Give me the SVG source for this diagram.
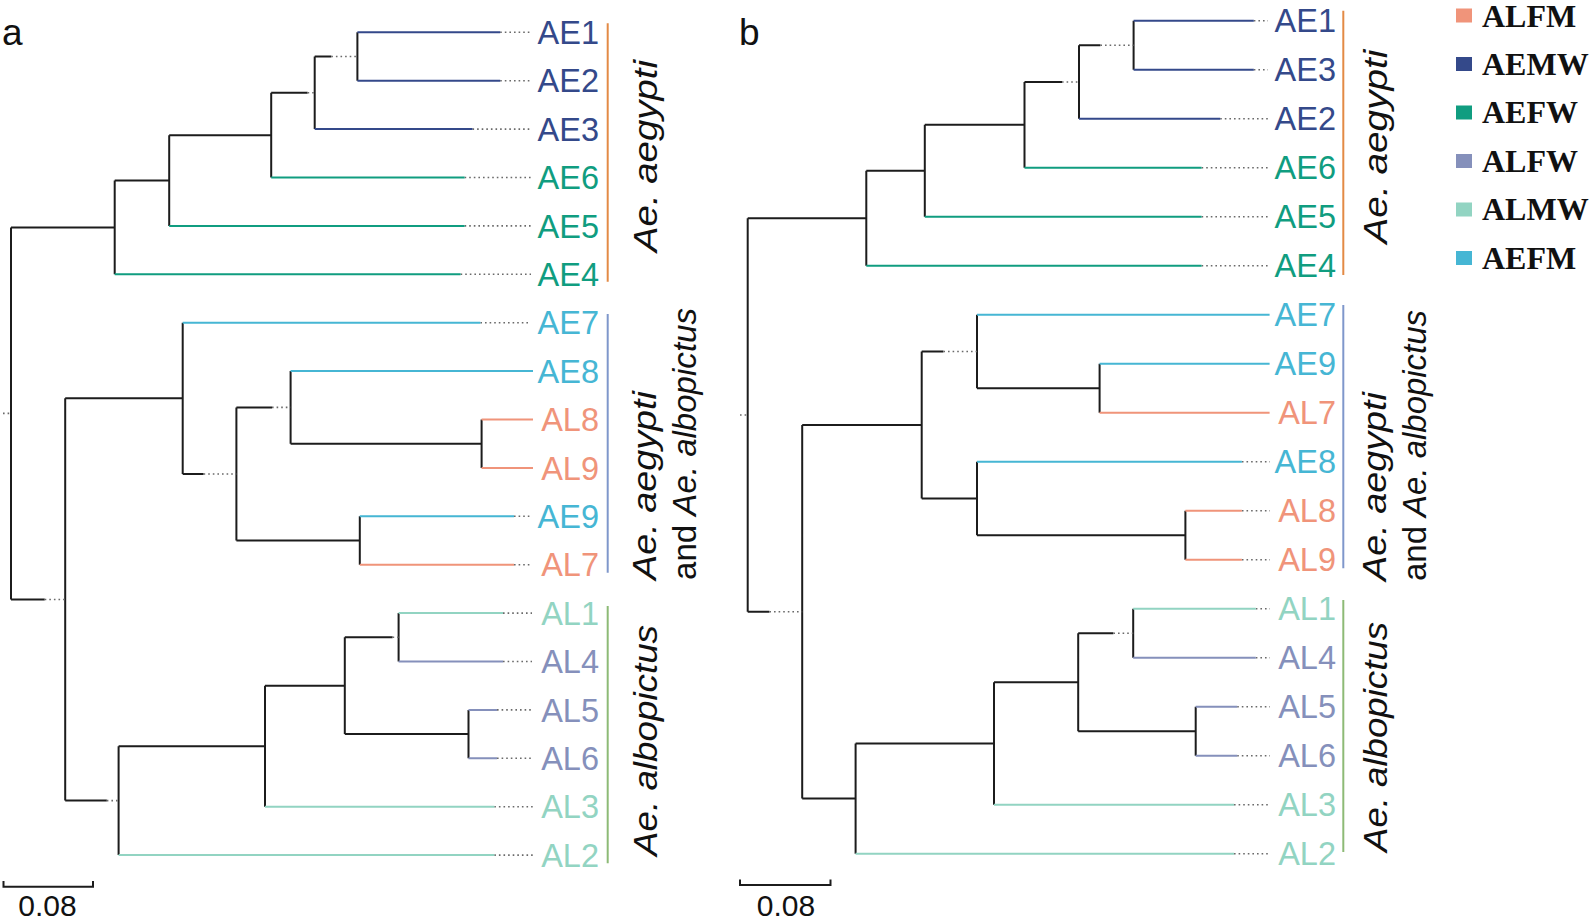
<svg xmlns="http://www.w3.org/2000/svg" width="1594" height="921" viewBox="0 0 1594 921">
<style>
.bk{stroke:#1c1c1c;stroke-width:2;fill:none}
.dt{stroke:#6a6a6a;stroke-width:1.6;fill:none;stroke-dasharray:1.6 3}
.nv{stroke:#34498a;stroke-width:2;fill:none}
.tl{stroke:#109d80;stroke-width:2;fill:none}
.cy{stroke:#46b6d4;stroke-width:2;fill:none}
.sa{stroke:#f0947a;stroke-width:2;fill:none}
.mt{stroke:#92d4c2;stroke-width:2;fill:none}
.lv{stroke:#8590bb;stroke-width:2;fill:none}
.lab{font-family:"Liberation Sans",Arial,sans-serif;font-size:32.5px;text-anchor:end}
.tnv{fill:#34498a}.ttl{fill:#109d80}.tcy{fill:#46b6d4}.tsa{fill:#f0947a}.tmt{fill:#92d4c2}.tlv{fill:#8590bb}
.side{font-family:"Liberation Sans",Arial,sans-serif;font-size:33.5px;font-style:italic;fill:#111}
.up{font-style:normal}
.pl{font-family:"Liberation Sans",Arial,sans-serif;font-size:37px;fill:#111}
.sc{font-family:"Liberation Sans",Arial,sans-serif;font-size:30px;fill:#111;text-anchor:middle}
.leg{font-family:"Liberation Serif","Times New Roman",serif;font-size:32px;font-weight:bold;fill:#111}
</style>

<g id="connectors">
<!-- Panel a black internal branches -->
<path class="bk" d="M11,227.4V599.5M11,227.4H114.7M114.7,180.5V274.3M114.7,180.5H169.2M169.2,135.2V225.9M169.2,135.2H271.2M271.2,92.8V177.5M271.2,92.8H307.6M314.7,56.5V129.1M314.7,56.5H331.3M357.4,32.3V80.7"/>
<path class="bk" d="M11,599.5H44.7M65.2,398.3V800.6M65.2,398.3H182.7M182.7,322.7V474M182.7,474H203.6M236.4,407.4V540.5M236.4,407.4H272M290.6,371.1V443.7M290.6,443.7H481.6M481.6,419.5V467.9M236.4,540.5H359.8M359.8,516.3V564.7"/>
<path class="bk" d="M65.2,800.6H106.8M118.6,746.2V855.1M118.6,746.2H265M265,685.7V806.7M265,685.7H344.8M344.8,637.3V734.1M344.8,637.3H392.6M398.6,613.1V661.5M344.8,734.1H468.5M468.5,709.9V758.3"/>
<!-- Panel a dotted -->
<path class="dt" d="M3,413.4H11M307.6,92.8H314.7M331.3,56.5H357.4M44.7,599.5H65.2M203.6,474H236.4M272,407.4H290.6M106.8,800.6H118.6M392.6,637.3H398.6"/>
<path class="dt" d="M500.2,32.3H532M500.2,80.7H532M472.5,129.1H532M464.6,177.5H532M464.6,225.9H532M460.6,274.3H531M480.4,322.7H531M514,516.3H532M514,564.7H532M503,613.1H532M503,661.5H532M497,709.9H533M497,758.3H533M494.3,806.7H533M494.3,855.1H533"/>
<!-- Panel a coloured terminal branches -->
<path class="nv" d="M357.4,32.3H500.2M357.4,80.7H500.2M314.7,129.1H472.5"/>
<path class="tl" d="M271.2,177.5H464.6M169.2,225.9H464.6M114.7,274.3H460.6"/>
<path class="cy" d="M182.7,322.7H480.4M290.6,371.1H533M359.8,516.3H514"/>
<path class="sa" d="M481.6,419.5H533M481.6,467.9H533M359.8,564.7H514"/>
<path class="mt" d="M398.6,613.1H503M265,806.7H494.3M118.6,855.1H494.3"/>
<path class="lv" d="M398.6,661.5H503M468.5,709.9H497M468.5,758.3H497"/>

<!-- Panel b black internal branches -->
<path class="bk" d="M747.7,218.2V611.8M747.7,218.2H866.3M866.3,170.8V265.7M866.3,170.8H924.8M924.8,124.8V216.7M924.8,124.8H1024.5M1024.5,82V167.7M1024.5,82H1062M1079,45.2V118.7M1079,45.2H1100.4M1133.6,20.7V69.7"/>
<path class="bk" d="M747.7,611.8H769.4M802.2,425V798.6M802.2,425H921.7M921.7,351.5V498.4M921.7,351.5H943.4M977,314.7V388.2M977,388.2H1099.6M1099.6,363.7V412.7M921.7,498.4H977M977,461.7V535.2M977,535.2H1185.4M1185.4,510.7V559.7"/>
<path class="bk" d="M802.2,798.6H855.6M855.6,743.5V853.7M855.6,743.5H994M994,682.2V804.7M994,682.2H1078.2M1078.2,633.2V731.2M1078.2,633.2H1113.4M1133.2,608.7V657.7M1078.2,731.2H1195.7M1195.7,706.7V755.7"/>
<!-- Panel b dotted -->
<path class="dt" d="M740,415H747.7M1062,82H1079M1100.4,45.2H1133.6M769.4,611.8H802.2M943.4,351.5H977M1113.4,633.2H1133.2"/>
<path class="dt" d="M1253.8,20.7H1268M1253.8,69.7H1268M1220.2,118.7H1268M1201.6,167.7H1268M1201.6,216.7H1268M1201.6,265.7H1268M1241.9,461.7H1270M1241.9,510.7H1270M1241.9,559.7H1270M1255.8,608.7H1270M1255.8,657.7H1270M1237.2,706.7H1270M1237.2,755.7H1270M1234,804.7H1270M1234,853.7H1270"/>
<!-- Panel b coloured terminal branches -->
<path class="nv" d="M1133.6,20.7H1253.8M1133.6,69.7H1253.8M1079,118.7H1220.2"/>
<path class="tl" d="M1024.5,167.7H1201.6M924.8,216.7H1201.6M866.3,265.7H1201.6"/>
<path class="cy" d="M977,314.7H1269.6M1099.6,363.7H1269.6M977,461.7H1241.9"/>
<path class="sa" d="M1099.6,412.7H1269.6M1185.4,510.7H1241.9M1185.4,559.7H1241.9"/>
<path class="mt" d="M1133.2,608.7H1255.8M994,804.7H1234M855.6,853.7H1234"/>
<path class="lv" d="M1133.2,657.7H1255.8M1195.7,706.7H1237.2M1195.7,755.7H1237.2"/>
</g>

<!-- Panel a leaf nodes -->
<g id="a-AE1"><text class="lab tnv" x="599" y="44">AE1</text></g>
<g id="a-AE2"><text class="lab tnv" x="599" y="92.4">AE2</text></g>
<g id="a-AE3"><text class="lab tnv" x="599" y="140.8">AE3</text></g>
<g id="a-AE6"><text class="lab ttl" x="599" y="189.2">AE6</text></g>
<g id="a-AE5"><text class="lab ttl" x="599" y="237.6">AE5</text></g>
<g id="a-AE4"><text class="lab ttl" x="599" y="286">AE4</text></g>
<g id="a-AE7"><text class="lab tcy" x="599" y="334.4">AE7</text></g>
<g id="a-AE8"><text class="lab tcy" x="599" y="382.8">AE8</text></g>
<g id="a-AL8"><text class="lab tsa" x="599" y="431.2">AL8</text></g>
<g id="a-AL9"><text class="lab tsa" x="599" y="479.6">AL9</text></g>
<g id="a-AE9"><text class="lab tcy" x="599" y="528">AE9</text></g>
<g id="a-AL7"><text class="lab tsa" x="599" y="576.4">AL7</text></g>
<g id="a-AL1"><text class="lab tmt" x="599" y="624.8">AL1</text></g>
<g id="a-AL4"><text class="lab tlv" x="599" y="673.2">AL4</text></g>
<g id="a-AL5"><text class="lab tlv" x="599" y="721.6">AL5</text></g>
<g id="a-AL6"><text class="lab tlv" x="599" y="770">AL6</text></g>
<g id="a-AL3"><text class="lab tmt" x="599" y="818.4">AL3</text></g>
<g id="a-AL2"><text class="lab tmt" x="599" y="866.8">AL2</text></g>

<!-- Panel b leaf nodes -->
<g id="b-AE1"><text class="lab tnv" x="1336" y="32.4">AE1</text></g>
<g id="b-AE3"><text class="lab tnv" x="1336" y="81.4">AE3</text></g>
<g id="b-AE2"><text class="lab tnv" x="1336" y="130.4">AE2</text></g>
<g id="b-AE6"><text class="lab ttl" x="1336" y="179.4">AE6</text></g>
<g id="b-AE5"><text class="lab ttl" x="1336" y="228.4">AE5</text></g>
<g id="b-AE4"><text class="lab ttl" x="1336" y="277.4">AE4</text></g>
<g id="b-AE7"><text class="lab tcy" x="1336" y="326.4">AE7</text></g>
<g id="b-AE9"><text class="lab tcy" x="1336" y="375.4">AE9</text></g>
<g id="b-AL7"><text class="lab tsa" x="1336" y="424.4">AL7</text></g>
<g id="b-AE8"><text class="lab tcy" x="1336" y="473.4">AE8</text></g>
<g id="b-AL8"><text class="lab tsa" x="1336" y="522.4">AL8</text></g>
<g id="b-AL9"><text class="lab tsa" x="1336" y="571.4">AL9</text></g>
<g id="b-AL1"><text class="lab tmt" x="1336" y="620.4">AL1</text></g>
<g id="b-AL4"><text class="lab tlv" x="1336" y="669.4">AL4</text></g>
<g id="b-AL5"><text class="lab tlv" x="1336" y="718.4">AL5</text></g>
<g id="b-AL6"><text class="lab tlv" x="1336" y="767.4">AL6</text></g>
<g id="b-AL3"><text class="lab tmt" x="1336" y="816.4">AL3</text></g>
<g id="b-AL2"><text class="lab tmt" x="1336" y="865.4">AL2</text></g>

<!-- Clade brackets and labels, panel a -->
<g id="a-clade-aegypti">
<line x1="607.7" y1="23.3" x2="607.7" y2="281.7" stroke="#e38a45" stroke-width="2"/>
<text class="side" transform="translate(657,156) rotate(-90)" text-anchor="middle" textLength="192" lengthAdjust="spacingAndGlyphs">Ae. aegypti</text>
</g>
<g id="a-clade-mixed">
<line x1="607.7" y1="314" x2="607.7" y2="572.7" stroke="#7f97cb" stroke-width="2"/>
<text class="side" transform="translate(656,580) rotate(-90)" textLength="189" lengthAdjust="spacingAndGlyphs">Ae. aegypti</text>
<text class="side" transform="translate(696,580) rotate(-90)" textLength="272" lengthAdjust="spacingAndGlyphs"><tspan class="up">and </tspan>Ae. albopictus</text>
</g>
<g id="a-clade-albopictus">
<line x1="607.7" y1="606" x2="607.7" y2="863.3" stroke="#8dba76" stroke-width="2"/>
<text class="side" transform="translate(657,856) rotate(-90)" textLength="231" lengthAdjust="spacingAndGlyphs">Ae. albopictus</text>
</g>

<!-- Clade brackets and labels, panel b -->
<g id="b-clade-aegypti">
<line x1="1343.3" y1="10.7" x2="1343.3" y2="275" stroke="#e38a45" stroke-width="2"/>
<text class="side" transform="translate(1387,146.5) rotate(-90)" text-anchor="middle" textLength="194" lengthAdjust="spacingAndGlyphs">Ae. aegypti</text>
</g>
<g id="b-clade-mixed">
<line x1="1343.3" y1="305" x2="1343.3" y2="568.3" stroke="#7f97cb" stroke-width="2"/>
<text class="side" transform="translate(1386,581) rotate(-90)" textLength="189" lengthAdjust="spacingAndGlyphs">Ae. aegypti</text>
<text class="side" transform="translate(1426,581) rotate(-90)" textLength="271" lengthAdjust="spacingAndGlyphs"><tspan class="up">and </tspan>Ae. albopictus</text>
</g>
<g id="b-clade-albopictus">
<line x1="1343.3" y1="600" x2="1343.3" y2="852" stroke="#8dba76" stroke-width="2"/>
<text class="side" transform="translate(1387,852) rotate(-90)" textLength="230" lengthAdjust="spacingAndGlyphs">Ae. albopictus</text>
</g>

<!-- Panel letters -->
<g id="panel-a-label"><text class="pl" x="2" y="45">a</text></g>
<g id="panel-b-label"><text class="pl" x="739" y="45">b</text></g>

<!-- Scale bars -->
<g id="scale-a">
<path class="bk" d="M3.5,881V886.7H93V881"/>
<text class="sc" x="47.5" y="916">0.08</text>
</g>
<g id="scale-b">
<path class="bk" d="M740,879.5V885H830.5V879.5"/>
<text class="sc" x="786" y="916">0.08</text>
</g>

<!-- Legend -->
<g id="legend">
<g id="leg-ALFM"><rect x="1456" y="8.5" width="16" height="14" fill="#f0947a"/><text class="leg" x="1482" y="26.7">ALFM</text></g>
<g id="leg-AEMW"><rect x="1456" y="57" width="16" height="14" fill="#34498a"/><text class="leg" x="1482" y="75">AEMW</text></g>
<g id="leg-AEFW"><rect x="1456" y="105.5" width="16" height="14" fill="#109d80"/><text class="leg" x="1482" y="123.3">AEFW</text></g>
<g id="leg-ALFW"><rect x="1456" y="154" width="16" height="14" fill="#8590bb"/><text class="leg" x="1482" y="171.8">ALFW</text></g>
<g id="leg-ALMW"><rect x="1456" y="202.5" width="16" height="14" fill="#92d4c2"/><text class="leg" x="1482" y="220.3">ALMW</text></g>
<g id="leg-AEFM"><rect x="1456" y="251" width="16" height="14" fill="#46b6d4"/><text class="leg" x="1482" y="268.8">AEFM</text></g>
</g>
</svg>
